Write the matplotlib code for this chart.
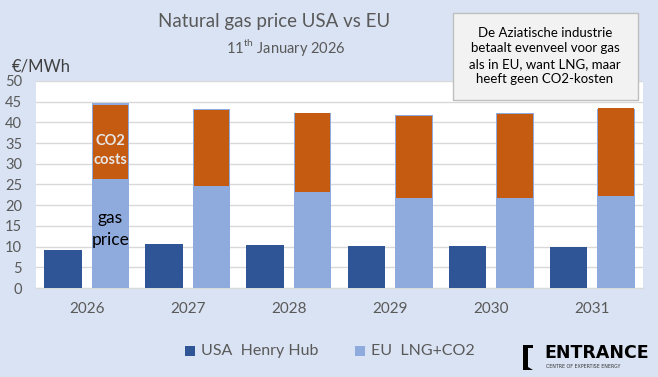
import numpy as np
import matplotlib
matplotlib.use('Agg')
import matplotlib.pyplot as plt
from matplotlib.patches import Rectangle, Polygon

# Data (EUR/MWh)
years = ['2026', '2027', '2028', '2029', '2030', '2031']
usa_henry_hub = [9.2, 10.6, 10.4, 10.1, 10.1, 9.9]
eu_lng_co2 = [44.7, 43.2, 42.3, 41.8, 42.3, 43.2]
eu_gas_price = [26.3, 24.6, 23.2, 21.7, 21.7, 22.2]
eu_co2_costs = [17.9, 18.4, 19.0, 19.8, 20.3, 21.3]
y_ticks = [0, 5, 10, 15, 20, 25, 30, 35, 40, 45, 50]

BG = '#DAE3F3'
BLUE = '#2F5597'
LIGHT = '#8FAADC'
ORANGE = '#C55A11'
GREY_TXT = '#595959'

plt.rcParams['font.family'] = ['Lato', 'DejaVu Sans']
plt.rcParams['mathtext.fontset'] = 'custom'
plt.rcParams['mathtext.rm'] = 'Lato'

fig = plt.figure(figsize=(6.58, 3.77), dpi=100, facecolor=BG)
ax = fig.add_axes([36 / 658, 1 - 288 / 377, 607 / 658, 207 / 377])
ax.set_facecolor('white')

x = np.arange(len(years))
off = 0.235
ax.bar(x - off, usa_henry_hub, width=0.37, color=BLUE, zorder=3)
ax.bar(x + off, eu_lng_co2, width=0.37, color=LIGHT, zorder=3)
ax.bar(x + off, eu_co2_costs, bottom=eu_gas_price, width=0.35, color=ORANGE, zorder=4)

ax.set_xlim(-0.5, len(years) - 0.5)
ax.set_ylim(0, 50)
ax.set_yticks(y_ticks)
ax.set_xticks(x)
ax.set_xticklabels(years)
ax.tick_params(axis='y', length=0, pad=10, labelsize=10.5, labelcolor=GREY_TXT)
ax.tick_params(axis='x', length=0, pad=10, labelsize=11, labelcolor=GREY_TXT)
ax.grid(axis='y', color='#D9D9D9', linewidth=1, zorder=0)
for s in ['top', 'right', 'left']:
    ax.spines[s].set_visible(False)
ax.spines['bottom'].set_color('#D9D9D9')

# labels inside first EU bar
ax.text(x[0] + off, 35.5, 'CO2', ha='center', va='center', color='#E7E6E6',
        fontsize=10.5, fontweight='bold', zorder=5)
ax.text(x[0] + off, 31.0, 'costs', ha='center', va='center', color='#E7E6E6',
        fontsize=10.5, fontweight='bold', zorder=5)
ax.text(x[0] + off, 17.0, 'gas', ha='center', va='center', color='black',
        fontsize=12.5, zorder=5)
ax.text(x[0] + off, 11.5, 'price', ha='center', va='center', color='black',
        fontsize=12.5, zorder=5)

# titles
fig.text(274 / 658, 1 - 22 / 377, 'Natural gas price USA vs EU', ha='center', va='center',
         fontsize=13.5, color=GREY_TXT)
fig.text(286 / 658, 1 - 48 / 377, r'11$^{\mathrm{th}}$ January 2026', ha='center', va='center',
         fontsize=10.5, color=GREY_TXT)
fig.text(12 / 658, 1 - 67 / 377, '€/MWh', ha='left', va='center', fontsize=12, color='#404040')

# annotation box
fig.patches.append(Rectangle((453 / 658, 1 - 100 / 377), 185 / 658, 87 / 377,
                             transform=fig.transFigure, facecolor='#F2F2F2',
                             edgecolor='#BFBFBF', linewidth=1, zorder=10))
fig.text(545 / 658, 1 - 56 / 377,
         'De Aziatische industrie\nbetaalt evenveel voor gas\nals in EU, want LNG, maar\nheeft geen CO2-kosten',
         ha='center', va='center', fontsize=9.5, color='black', linespacing=1.35, zorder=11)

# legend
fig.patches.append(Rectangle((185 / 658, 1 - 356 / 377), 10 / 658, 10 / 377,
                             transform=fig.transFigure, facecolor=BLUE, edgecolor='none'))
fig.text(201 / 658, 1 - 351 / 377, 'USA  Henry Hub', ha='left', va='center',
         fontsize=11.5, color=GREY_TXT)
fig.patches.append(Rectangle((355 / 658, 1 - 356 / 377), 10 / 658, 10 / 377,
                             transform=fig.transFigure, facecolor=LIGHT, edgecolor='none'))
fig.text(371 / 658, 1 - 351 / 377, 'EU  LNG+CO2', ha='left', va='center',
         fontsize=11.5, color=GREY_TXT)

# logo
fig.patches.append(Polygon([(523 / 658, 1 - 345 / 377), (533 / 658, 1 - 345 / 377),
                            (533 / 658, 1 - 348 / 377), (528 / 658, 1 - 348 / 377),
                            (528 / 658, 1 - 367 / 377), (533 / 658, 1 - 370 / 377),
                            (523 / 658, 1 - 370 / 377)],
                           closed=True, transform=fig.transFigure, facecolor='black',
                           edgecolor='none'))
fig.text(544 / 658, 1 - 353 / 377, 'ENTRANCE', ha='left', va='center', fontsize=12.5,
         fontweight='heavy', color='black', family=['DejaVu Sans'])
fig.text(546 / 658, 1 - 366 / 377, 'CENTRE OF EXPERTISE ENERGY', ha='left', va='center',
         fontsize=3.4, color='#333333', family=['DejaVu Sans'])

fig.savefig('out.png', dpi=100, facecolor=BG)
